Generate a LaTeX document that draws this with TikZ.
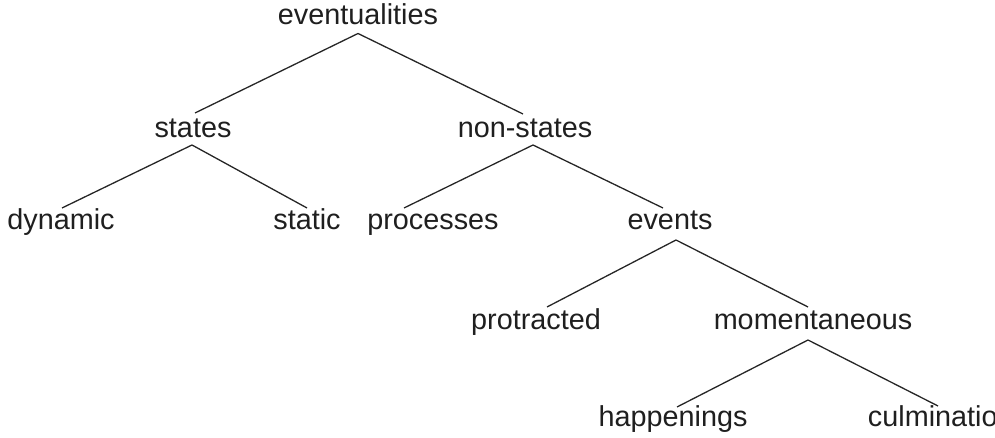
\documentclass[tikz,border=0pt]{standalone}
\usepackage{fontspec}
\setmainfont{Liberation Sans}
\begin{document}
\begin{tikzpicture}[x=1pt,y=1pt,
  lbl/.style={anchor=base,inner sep=0pt,text=black!88,font=\fontsize{28.8}{34}\selectfont},
  edge/.style={draw=black!85,line width=1.3pt}]
\useasboundingbox (0,0) rectangle (995,438);
\clip (0,0) rectangle (995,438);
\node[lbl] (ev)   at (358,413.5) {eventualities};
\node[lbl] (st)   at (193,300) {states};
\node[lbl] (ns)   at (525,300) {non-states};
\node[lbl] (dyn)  at (61,208) {dynamic};
\node[lbl] (stat) at (307,208) {static};
\node[lbl] (proc) at (433,208) {processes};
\node[lbl] (evs)  at (670,208) {events};
\node[lbl] (prot) at (536,108) {protracted};
\node[lbl] (mom)  at (813,108) {momentaneous};
\node[lbl] (hap)  at (673,11) {happenings};
\node[lbl] (cul)  at (948,11) {culminations};
\draw[edge] ([yshift=-9pt]ev.base) -- ([xshift=2pt,yshift=25pt]st.base);
\draw[edge] ([yshift=-9pt]ev.base) -- ([xshift=-2pt,yshift=24pt]ns.base);
\draw[edge] ([xshift=-1pt,yshift=-7pt]st.base) -- ([xshift=1pt,yshift=22pt]dyn.base);
\draw[edge] ([xshift=-1pt,yshift=-7pt]st.base) -- ([yshift=22pt]stat.base);
\draw[edge] ([xshift=8pt,yshift=-7pt]ns.base) -- ([xshift=-29pt,yshift=22pt]proc.base);
\draw[edge] ([xshift=8pt,yshift=-7pt]ns.base) -- ([xshift=-7pt,yshift=22pt]evs.base);
\draw[edge] ([xshift=6pt,yshift=-10pt]evs.base) -- ([xshift=11pt,yshift=23pt]prot.base);
\draw[edge] ([xshift=6pt,yshift=-10pt]evs.base) -- ([xshift=-5pt,yshift=23pt]mom.base);
\draw[edge] ([xshift=-5pt,yshift=-10pt]mom.base) -- ([xshift=4pt,yshift=20pt]hap.base);
\draw[edge] ([xshift=-5pt,yshift=-10pt]mom.base) -- ([xshift=-10pt,yshift=21pt]cul.base);
\end{tikzpicture}
\end{document}
